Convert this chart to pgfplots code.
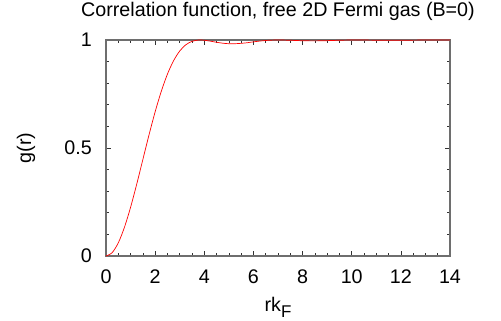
\documentclass[border=0pt]{standalone}
\usepackage{fontspec}
\setmainfont{Liberation Sans}
\usepackage{pgfplots}
\pgfplotsset{compat=1.18}
\definecolor{axgray}{RGB}{110,110,110}
\definecolor{tickgray}{RGB}{50,50,50}
\begin{document}
\begin{tikzpicture}
\useasboundingbox (-106bp,-65bp) rectangle (395bp,256bp);
\begin{axis}[
  at={(0,0)}, anchor=south west,
  scale only axis, width=344bp, height=216bp,
  xmin=0, xmax=14, ymin=0, ymax=1,
  xtick={0,2,...,14}, ytick={0,0.5,1},
  yticklabels={0,0.5,1},
  minor x tick num=3, minor y tick num=4,
  tick align=inside,
  major tick length=5bp, minor tick length=3bp,
  axis line style={draw=axgray, line width=1.3bp},
  every tick/.style={draw=tickgray, line width=0.7bp},
  font=\fontsize{19.7bp}{23bp}\selectfont,
  /pgf/number format/assume math mode=true,
  xticklabel style={anchor=base, yshift=-27bp, inner sep=0pt},
  yticklabel style={anchor=east, xshift=-14bp, inner sep=0pt},
  title={Correlation function, free 2D Fermi gas (B=0)},
  title style={at={(axis description cs:0.5,1.081)}, anchor=base, inner sep=0pt},
  xlabel={rk\raisebox{-0.3em}{\fontsize{17bp}{17bp}\selectfont F}},
  xlabel style={at={(axis description cs:0.5,-0.259)}, anchor=base, inner sep=0pt},
  ylabel={g(r)},
  ylabel style={at={(axis description cs:-0.218,0.5)}, anchor=base, inner sep=0pt},
]
\addplot[red, line width=0.7bp, smooth] coordinates {
(0,0) (0.25,0.0155) (0.5,0.0609) (0.75,0.1326) (1.0,0.2254) (1.25,0.3325)
(1.5,0.4466) (1.75,0.5604) (2.0,0.6674) (2.25,0.7624) (2.5,0.8419)
(2.75,0.9040) (3.0,0.9489) (3.25,0.9780) (3.5,0.9938) (3.75,0.9997)
(3.83,1.0000) (4.0,0.9989) (4.25,0.9946) (4.5,0.9895) (4.75,0.9852)
(5.0,0.9828) (5.25,0.9828) (5.5,0.9846) (5.75,0.9874) (6.0,0.9915)
(6.5,0.9978) (7.0,1.0000) (7.5,0.9987) (8.0,0.9966) (8.5,0.9959)
(9.0,0.9970) (9.5,0.9988) (10.0,0.9999) (10.5,0.9998) (11.0,0.9990)
(11.5,0.9984) (12.0,0.9986) (12.5,0.9993) (13.0,0.9999) (13.5,1.0000)
(14.0,0.9996)
};
\end{axis}
\end{tikzpicture}
\end{document}
